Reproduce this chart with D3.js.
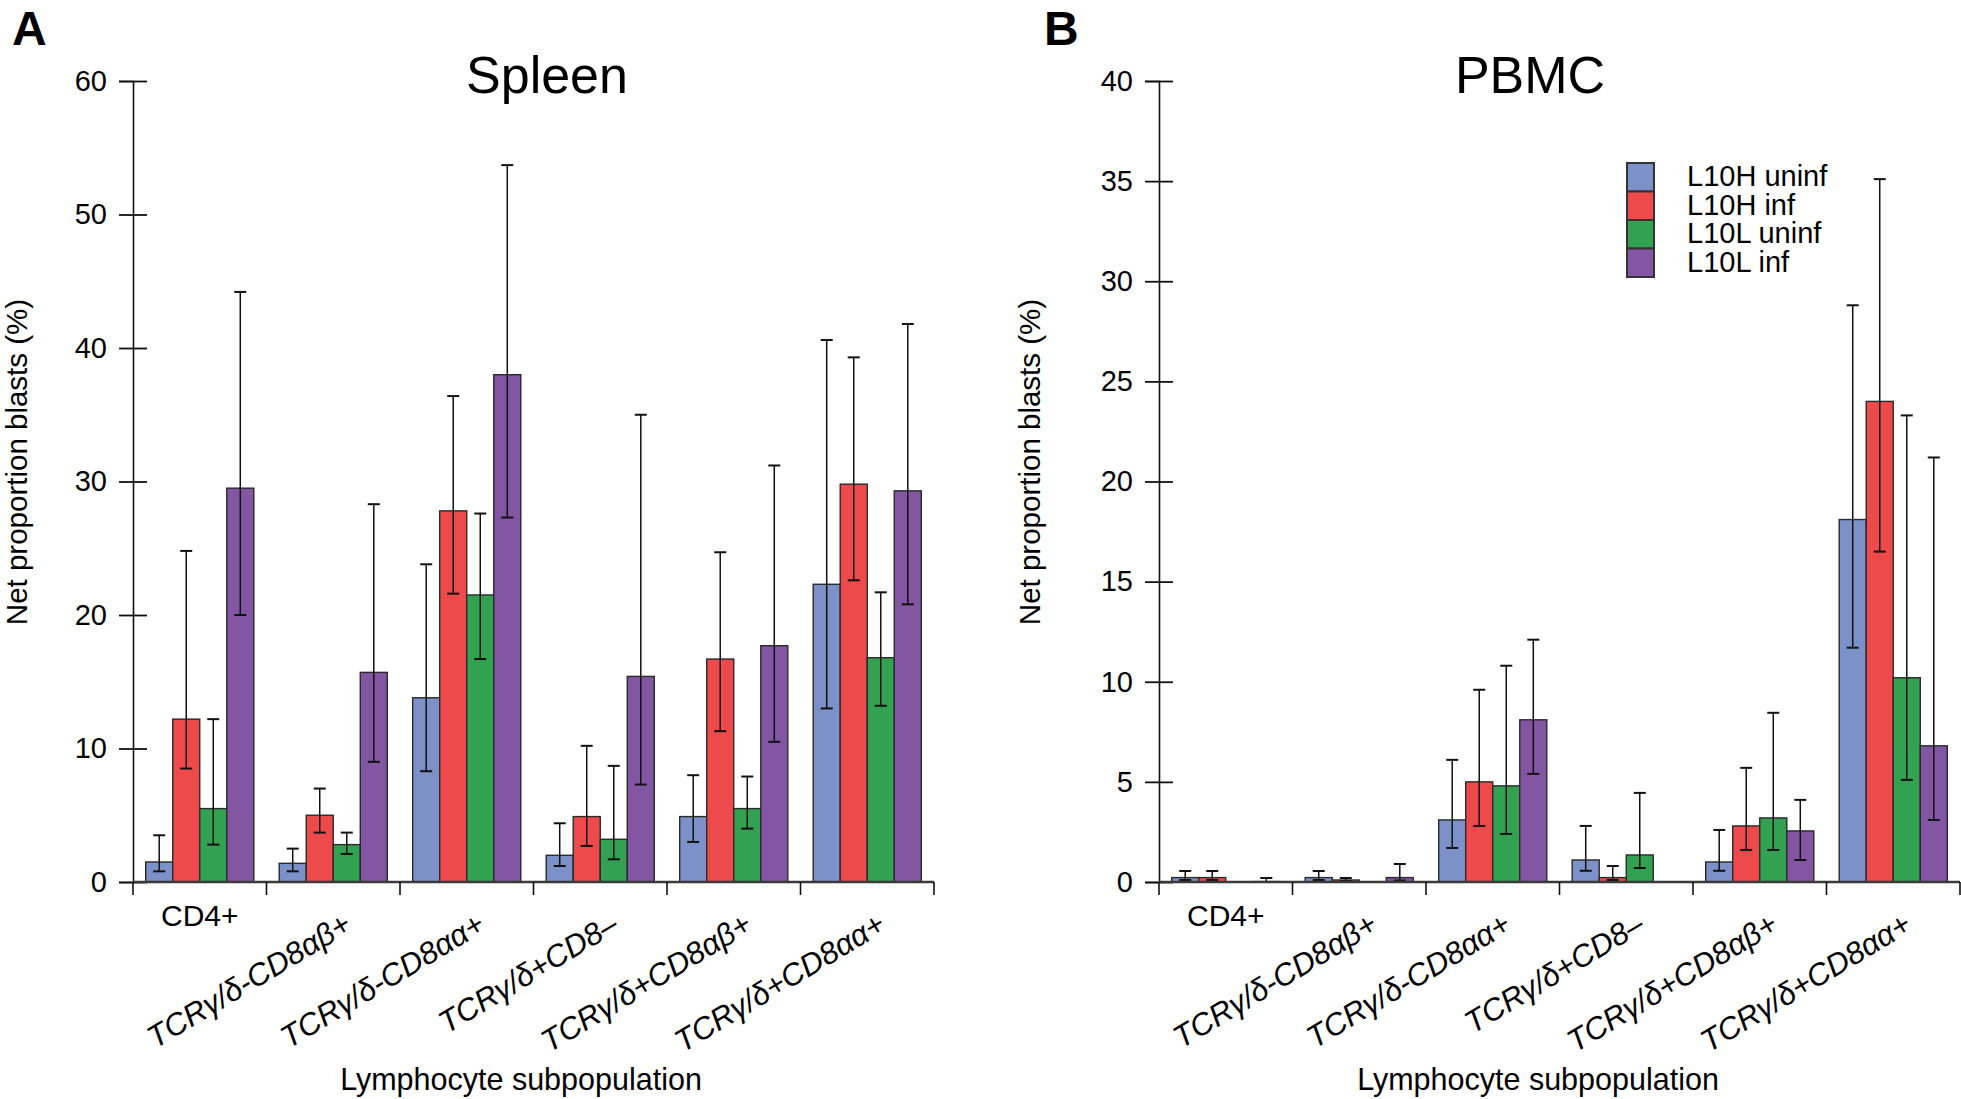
<!DOCTYPE html>
<html>
<head>
<meta charset="utf-8">
<script src="https://cdn.jsdelivr.net/npm/d3@7"></script>
<style>
  html, body { margin: 0; padding: 0; background: #fff; }
  svg { display: block; font-family: "Liberation Sans", Arial, Helvetica, sans-serif; }
</style>
</head>
<body>
<svg id="chart" width="1961" height="1099"></svg>
<script>
// ---------------- DATA ----------------
const categories = ["CD4+", "TCRγ/δ-CD8αβ+", "TCRγ/δ-CD8αα+", "TCRγ/δ+CD8–", "TCRγ/δ+CD8αβ+", "TCRγ/δ+CD8αα+"];
const seriesNames = ["L10H uninf", "L10H inf", "L10L uninf", "L10L inf"];
const seriesColors = ["#7b91c8", "#ee4a4b", "#32a152", "#8256a3"];

// Spleen (panel A)
const spleenL10Huninf    = [1.5, 1.4, 13.8, 2.0, 4.9, 22.3];
const spleenL10HuninfLo  = [0.8, 0.8, 8.3, 1.2, 3.0, 13.0];
const spleenL10HuninfHi  = [3.5, 2.5, 23.8, 4.4, 8.0, 40.6];
const spleenL10Hinf      = [12.2, 5.0, 27.8, 4.9, 16.7, 29.8];
const spleenL10HinfLo    = [8.5, 3.7, 21.6, 2.7, 11.3, 22.6];
const spleenL10HinfHi    = [24.8, 7.0, 36.4, 10.2, 24.7, 39.3];
const spleenL10Luninf    = [5.5, 2.8, 21.5, 3.2, 5.5, 16.8];
const spleenL10LuninfLo  = [2.8, 2.1, 16.7, 1.7, 4.0, 13.2];
const spleenL10LuninfHi  = [12.2, 3.7, 27.6, 8.7, 7.9, 21.7];
const spleenL10Linf      = [29.5, 15.7, 38.0, 15.4, 17.7, 29.3];
const spleenL10LinfLo    = [20.0, 9.0, 27.3, 7.3, 10.5, 20.8];
const spleenL10LinfHi    = [44.2, 28.3, 53.7, 35.0, 31.2, 41.8];
const spleenTicks = [0, 10, 20, 30, 40, 50, 60];

// PBMC (panel B)
const pbmcL10Huninf    = [0.22, 0.22, 3.1, 1.1, 1.0, 18.1];
const pbmcL10HuninfLo  = [0.1, 0.1, 1.7, 0.56, 0.56, 11.7];
const pbmcL10HuninfHi  = [0.55, 0.55, 6.1, 2.8, 2.6, 28.8];
const pbmcL10Hinf      = [0.22, 0.1, 5.0, 0.22, 2.8, 24.0];
const pbmcL10HinfLo    = [0.1, 0.05, 2.8, 0.1, 1.6, 16.5];
const pbmcL10HinfHi    = [0.55, 0.2, 9.6, 0.8, 5.7, 35.1];
const pbmcL10Luninf    = [0, 0, 4.8, 1.35, 3.2, 10.2];
const pbmcL10LuninfLo  = [null, null, 2.4, 0.7, 1.6, 5.1];
const pbmcL10LuninfHi  = [null, null, 10.8, 4.45, 8.45, 23.3];
const pbmcL10Linf      = [0.02, 0.22, 8.1, 0, 2.55, 6.8];
const pbmcL10LinfLo    = [0, 0.07, 5.4, null, 1.1, 3.1];
const pbmcL10LinfHi    = [0.2, 0.9, 12.1, null, 4.1, 21.2];
const pbmcTicks = [0, 5, 10, 15, 20, 25, 30, 35, 40];

const xTitle = "Lymphocyte subpopulation";
const yTitle = "Net proportion blasts (%)";

// ---------------- DRAW ----------------
const svg = d3.select("#chart");
const FONT = '"Liberation Sans", Arial, Helvetica, sans-serif';

function drawPanel(cfg) {
  const g = svg.append("g");
  const y = d3.scaleLinear().domain([0, cfg.ticks[cfg.ticks.length - 1]]).range([cfg.bottom, cfg.top]);
  const x0 = d3.scaleBand().domain(categories).range([cfg.left, cfg.right]).padding(0);
  const x1 = d3.scaleBand().domain(seriesNames).range([0, x0.bandwidth()]).paddingInner(0).paddingOuter(0.47);

  const rows = [];
  categories.forEach((c, ci) => {
    seriesNames.forEach((s, si) => {
      rows.push({c, s, si, ci, v: cfg.vals[si][ci], lo: cfg.lo[si][ci], hi: cfg.hi[si][ci]});
    });
  });

  g.selectAll("rect.bar").data(rows).join("rect")
    .attr("class", "bar")
    .attr("x", d => x0(d.c) + x1(d.s))
    .attr("width", x1.bandwidth())
    .attr("y", d => y(d.v))
    .attr("height", d => y(0) - y(d.v))
    .attr("fill", d => seriesColors[d.si])
    .attr("stroke", "#2a2a2a")
    .attr("stroke-width", 1.4);

  const eb = rows.filter(d => d.lo !== null && d.hi !== null);
  const cap = 6;
  const cxOf = d => x0(d.c) + x1(d.s) + x1.bandwidth() / 2;
  const eg = g.selectAll("g.eb").data(eb).join("g").attr("class", "eb")
    .attr("stroke", "#111").attr("stroke-width", 1.5);
  eg.append("line")
    .attr("x1", cxOf).attr("x2", cxOf)
    .attr("y1", d => y(d.lo)).attr("y2", d => y(d.hi));
  eg.append("line")
    .attr("x1", d => cxOf(d) - cap).attr("x2", d => cxOf(d) + cap)
    .attr("y1", d => y(d.hi)).attr("y2", d => y(d.hi)).attr("stroke-width", 2);
  eg.append("line")
    .attr("x1", d => cxOf(d) - cap).attr("x2", d => cxOf(d) + cap)
    .attr("y1", d => y(d.lo)).attr("y2", d => y(d.lo)).attr("stroke-width", 2);

  // y axis
  const yAxis = d3.axisLeft(y).tickValues(cfg.ticks).tickSizeOuter(0).tickSize(14).tickPadding(10);
  const ya = g.append("g").attr("transform", `translate(${cfg.left},0)`).call(yAxis);
  ya.select(".domain").attr("stroke", "#111").attr("stroke-width", 1.6);
  ya.selectAll(".tick line").attr("x1", -14).attr("x2", 14).attr("stroke", "#111").attr("stroke-width", 1.8);
  ya.selectAll(".tick text").attr("font-size", 29).attr("font-family", FONT).attr("fill", "#000").attr("dx", -2);

  // x axis line & dividers
  const xa = g.append("g");
  xa.append("line").attr("x1", cfg.left).attr("x2", cfg.right)
    .attr("y1", y(0)).attr("y2", y(0)).attr("stroke", "#3a3a3a").attr("stroke-width", 2.4);
  const bounds = categories.map(c => x0(c)).concat([x0(categories[categories.length - 1]) + x0.bandwidth()]);
  xa.selectAll("line.div").data(bounds).join("line").attr("class", "div")
    .attr("x1", d => d).attr("x2", d => d)
    .attr("y1", y(0)).attr("y2", y(0) + 13)
    .attr("stroke", "#111").attr("stroke-width", 1.6);

  // category labels
  g.selectAll("text.cat").data(categories).join("text").attr("class", "cat")
    .attr("font-size", (d, i) => i === 0 ? 30 : 31)
    .attr("font-family", FONT)
    .attr("font-style", (d, i) => i === 0 ? "normal" : "italic")
    .attr("text-anchor", (d, i) => i === 0 ? "middle" : "end")
    .attr("transform", (d, i) => {
      const cx = x0(d) + x0.bandwidth() / 2;
      return i === 0 ? `translate(${cx},${926})` : `translate(${cx + 20},${930}) rotate(-31)`;
    })
    .text(d => d);

  // titles
  g.append("text").attr("x", cfg.titleX).attr("y", 93).attr("text-anchor", "middle")
    .attr("font-size", 52).text(cfg.title);
  g.append("text").attr("x", cfg.letterX).attr("y", 45).attr("font-size", 48).attr("font-weight", "bold")
    .text(cfg.letter);
  g.append("text").attr("x", cfg.xTitleX).attr("y", 1090).attr("text-anchor", "middle")
    .attr("font-size", 30.5).text(xTitle);
  g.append("text").attr("transform", `translate(${cfg.yTitleX},462) rotate(-90)`)
    .attr("text-anchor", "middle").attr("font-size", 29.5).text(yTitle);
}

drawPanel({
  letter: "A", letterX: 12, title: "Spleen", titleX: 547, xTitleX: 521, yTitleX: 27,
  left: 133, right: 934, top: 81, bottom: 882, ticks: spleenTicks,
  vals: [spleenL10Huninf, spleenL10Hinf, spleenL10Luninf, spleenL10Linf],
  lo: [spleenL10HuninfLo, spleenL10HinfLo, spleenL10LuninfLo, spleenL10LinfLo],
  hi: [spleenL10HuninfHi, spleenL10HinfHi, spleenL10LuninfHi, spleenL10LinfHi]
});

drawPanel({
  letter: "B", letterX: 1044, title: "PBMC", titleX: 1530, xTitleX: 1538, yTitleX: 1040,
  left: 1159, right: 1960, top: 81, bottom: 882, ticks: pbmcTicks,
  vals: [pbmcL10Huninf, pbmcL10Hinf, pbmcL10Luninf, pbmcL10Linf],
  lo: [pbmcL10HuninfLo, pbmcL10HinfLo, pbmcL10LuninfLo, pbmcL10LinfLo],
  hi: [pbmcL10HuninfHi, pbmcL10HinfHi, pbmcL10LuninfHi, pbmcL10LinfHi]
});

// legend
const lg = svg.append("g").attr("transform", "translate(1627,163)");
const ls = d3.scaleBand().domain(seriesNames).range([0, 114]);
lg.selectAll("rect").data(seriesNames).join("rect")
  .attr("x", 0).attr("y", d => ls(d)).attr("width", 27).attr("height", ls.bandwidth())
  .attr("fill", (d, i) => seriesColors[i]).attr("stroke", "#333").attr("stroke-width", 2);
lg.selectAll("text").data(seriesNames).join("text")
  .attr("x", 60).attr("y", d => ls(d) + 23).attr("font-size", 29).text(d => d);
</script>
</body>
</html>
